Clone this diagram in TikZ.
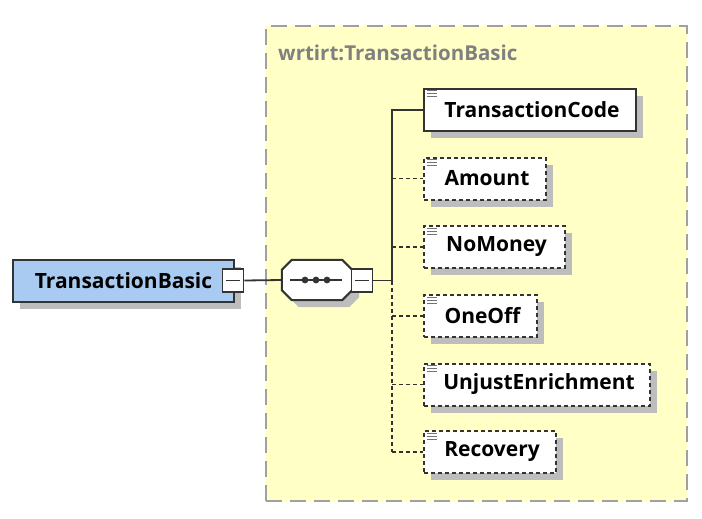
\documentclass[tikz,border=0pt]{standalone}
\usepackage{fontspec}
\setmainfont{Open Sans}
\usetikzlibrary{shadows,calc}
\definecolor{ctfill}{HTML}{FFFFC6}
\definecolor{ctline}{HTML}{A0A0A0}
\definecolor{bluefill}{HTML}{A9CBF2}
\definecolor{edge}{HTML}{333333}
\definecolor{shade}{HTML}{BDBDBD}
\tikzset{
  x=1pt, y=-1pt,
  lbl/.style={font=\bfseries\fontsize{21}{24}\selectfont},
  shad/.style={drop shadow={shadow xshift=7pt,shadow yshift=-7pt,opacity=1,fill=shade}},
  elembox/.style={lbl, draw=edge, line width=2pt, fill=white, shad, minimum height=42, inner sep=0, anchor=west},
  reqbox/.style={elembox},
  optbox/.style={elembox, dash pattern=on 4pt off 3pt},
  minusbox/.style={draw=edge, line width=1.8pt, fill=white, minimum width=21, minimum height=23, inner sep=0},
  conn/.style={draw=edge, line width=1.8pt},
  optconn/.style={conn, dash pattern=on 4pt off 3pt},
  icon/.style={draw=black!55, line width=1pt},
}
\newcommand{\docicon}[1]{%
  \draw[icon] ($(#1.north west)+(4,3)$) -- ++(10,0);
  \draw[icon] ($(#1.north west)+(4,6)$) -- ++(10,0);
  \draw[icon] ($(#1.north west)+(4,9)$) -- ++(10,0);
}
\begin{document}
\begin{tikzpicture}
\useasboundingbox (0,0) rectangle (702,519);
% container
\node[draw=ctline, fill=ctfill, line width=2pt, dash pattern=on 16pt off 8pt,
      minimum width=421, minimum height=475, anchor=north west, inner sep=0] (ct) at (265,25) {};
\node[anchor=west, text=black!50, font=\bfseries\fontsize{20.5}{24}\selectfont, inner sep=0] (title) at (278,53) {wrtirt:TransactionBasic};
% root element
\node[lbl, draw=edge, line width=2pt, fill=bluefill, shad, minimum width=221, minimum height=42,
      inner sep=0, anchor=north west] (tb) at (12,259) {TransactionBasic\hspace{6pt}};
\node[minusbox] (bm) at (233,280.5) {};
\draw[edge, line width=1.5pt] ($(bm.west)+(4,0)$) -- ($(bm.east)+(-4,0)$);
% sequence compositor
\node[minimum width=70, minimum height=40, inner sep=0] (seq) at (317,280) {};
\draw[draw=edge, line width=2pt, fill=white, shad]
  ($(seq.north west)+(10,0)$) -- ($(seq.north east)+(-10,0)$) -- ($(seq.north east)+(0,10)$)
  -- ($(seq.south east)+(0,-10)$) -- ($(seq.south east)+(-10,0)$) -- ($(seq.south west)+(10,0)$)
  -- ($(seq.south west)+(0,-10)$) -- ($(seq.north west)+(0,10)$) -- cycle;
\draw[edge, line width=1.5pt] ($(seq.west)+(8,0)$) -- ($(seq.east)+(-10,0)$);
\foreach \dx in {-12,-1,10} \fill[edge] ($(seq.center)+(\dx,0)$) circle (3.4);
\node[minusbox] (sm) at (362,280.5) {};
\draw[edge, line width=1.5pt] ($(sm.west)+(4,0)$) -- ($(sm.east)+(-4,0)$);
% children
\node[reqbox, minimum width=212] (tc) at (423,110) {\hspace{4pt}TransactionCode};
\node[optbox, minimum width=122] (am) at (423,178.5) {\hspace{4pt}Amount};
\node[optbox, minimum width=141] (nm) at (423,247) {\hspace{4pt}NoMoney};
\node[optbox, minimum width=113] (oo) at (423,316) {\hspace{4pt}OneOff};
\node[optbox, minimum width=226] (ue) at (423,384.5) {\hspace{4pt}UnjustEnrichment};
\node[optbox, minimum width=132] (rc) at (423,452) {\hspace{4pt}Recovery};
\docicon{tc}\docicon{am}\docicon{nm}\docicon{oo}\docicon{ue}\docicon{rc}
% connectors
\coordinate (j) at (392,280.5);
\draw[conn] (bm.east) -- (seq.west);
\draw[conn] (sm.east) -- (j);
\draw[conn] (j) |- (tc.west);
\draw[optconn] (j) -- (j |- rc.west);
\foreach \c in {am,nm,oo,ue,rc} \draw[optconn] (j |- \c.west) -- (\c.west);
\end{tikzpicture}
\end{document}
